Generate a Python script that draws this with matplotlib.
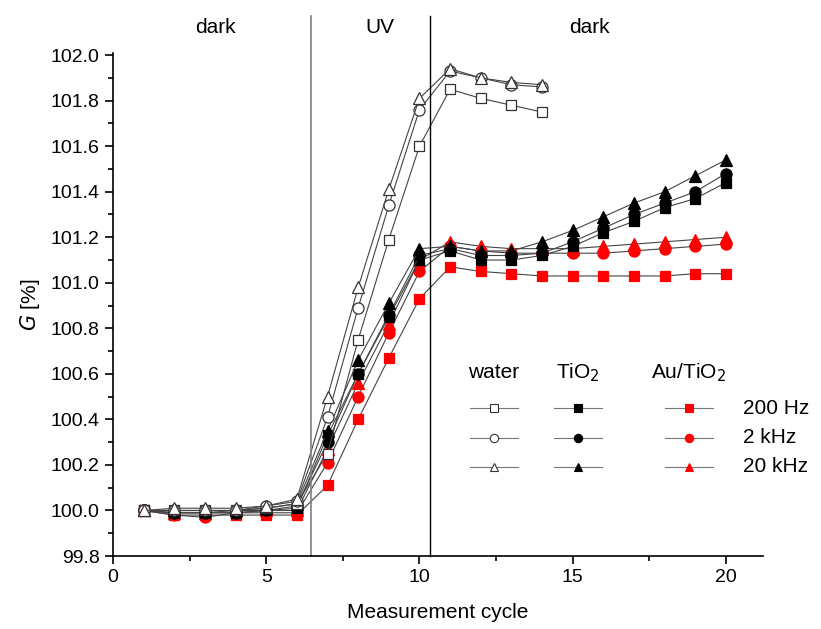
import matplotlib
matplotlib.use("Agg")
import matplotlib.pyplot as plt
from matplotlib.ticker import MultipleLocator

plt.rcParams['font.family'] = ['Liberation Sans', 'DejaVu Sans']

cycles_water = list(range(1, 15))
cycles = list(range(1, 21))

water_200 = [100.0, 100.0, 100.0, 100.0, 100.01, 100.03, 100.25, 100.75, 101.19, 101.60, 101.85, 101.81, 101.78, 101.75]
water_2k = [100.0, 100.0, 100.0, 100.0, 100.02, 100.04, 100.41, 100.89, 101.34, 101.76, 101.93, 101.90, 101.87, 101.86]
water_20k = [100.0, 100.01, 100.01, 100.01, 100.02, 100.05, 100.50, 100.98, 101.41, 101.81, 101.94, 101.90, 101.88, 101.87]

tio2_200 = [100.0, 99.99, 99.99, 99.99, 100.0, 100.01, 100.33, 100.60, 100.85, 101.10, 101.14, 101.10, 101.10, 101.12,
            101.16, 101.22, 101.27, 101.33, 101.37, 101.44]
tio2_2k = [100.0, 99.99, 99.99, 99.99, 100.0, 100.02, 100.30, 100.60, 100.86, 101.12, 101.15, 101.12, 101.12, 101.13,
           101.18, 101.24, 101.30, 101.35, 101.40, 101.48]
tio2_20k = [100.0, 100.0, 100.0, 100.0, 100.01, 100.03, 100.35, 100.66, 100.91, 101.15, 101.16, 101.14, 101.14, 101.18,
            101.23, 101.29, 101.35, 101.40, 101.47, 101.54]

au_200 = [100.0, 99.98, 99.98, 99.98, 99.98, 99.98, 100.11, 100.40, 100.67, 100.93, 101.07, 101.05, 101.04, 101.03,
          101.03, 101.03, 101.03, 101.03, 101.04, 101.04]
au_2k = [100.0, 99.98, 99.97, 99.99, 99.99, 99.99, 100.21, 100.50, 100.78, 101.05, 101.16, 101.14, 101.13, 101.13,
         101.13, 101.13, 101.14, 101.15, 101.16, 101.17]
au_20k = [100.0, 99.99, 99.99, 100.0, 100.0, 100.0, 100.27, 100.56, 100.82, 101.10, 101.18, 101.16, 101.15, 101.15,
          101.15, 101.16, 101.17, 101.18, 101.19, 101.20]

fig = plt.figure(figsize=(8.21, 6.29), dpi=100)
ax = fig.add_axes([0.1376, 0.116, 0.7914, 0.8])

line_kw = dict(color='#444444', linewidth=0.8)
series = [
    (cycles, au_200, 's', 'red', 'red', 7),
    (cycles, au_2k, 'o', 'red', 'red', 8),
    (cycles, au_20k, '^', 'red', 'red', 8.5),
    (cycles, tio2_200, 's', 'black', 'black', 7),
    (cycles, tio2_2k, 'o', 'black', 'black', 8),
    (cycles, tio2_20k, '^', 'black', 'black', 8.5),
    (cycles_water, water_200, 's', 'white', '#333333', 7),
    (cycles_water, water_2k, 'o', 'white', '#333333', 8),
    (cycles_water, water_20k, '^', 'white', '#333333', 8.5),
]
for x, y, m, fc, ec, ms in series:
    ax.plot(x, y, marker=m, markerfacecolor=fc, markeredgecolor=ec, markersize=ms,
            markeredgewidth=0.9, **line_kw)

# dark / UV boundaries
ax.axvline(6.45, ymin=0, ymax=1.074, color='#808080', linewidth=1.2, clip_on=False)
ax.axvline(10.35, ymin=0, ymax=1.074, color='black', linewidth=1.0, clip_on=False)
for xt, t in [(3.33, 'dark'), (8.7, 'UV'), (15.56, 'dark')]:
    ax.text(xt, 102.12, t, ha='center', va='center', fontsize=15)

# legend drawn as a small table
leg_cols = [12.42, 15.16, 18.79]
leg_rows = [100.448, 100.32, 100.193]
headers = ['water', 'TiO$_2$', 'Au/TiO$_2$']
freqs = ['200 Hz', '2 kHz', '20 kHz']
markers = ['s', 'o', '^']
faces = ['white', 'black', 'red']
edges = ['#333333', 'black', 'red']
for xc, h, fc, ec in zip(leg_cols, headers, faces, edges):
    ax.text(xc, 100.607, h, ha='center', va='center', fontsize=15)
    for yr, m in zip(leg_rows, markers):
        ax.plot([xc - 0.78, xc + 0.78], [yr, yr], color='#777777', linewidth=0.8)
        ax.plot([xc], [yr], marker=m, markerfacecolor=fc, markeredgecolor=ec,
                markersize=6, markeredgewidth=0.8)
for yr, f in zip(leg_rows, freqs):
    ax.text(20.56, yr, f, ha='left', va='center', fontsize=15)

ax.set_xlim(0, 21.2)
ax.set_ylim(99.8, 102.01)
ax.xaxis.set_major_locator(MultipleLocator(5))
ax.xaxis.set_minor_locator(MultipleLocator(2.5))
ax.yaxis.set_major_locator(MultipleLocator(0.2))
ax.yaxis.set_minor_locator(MultipleLocator(0.1))
ax.yaxis.set_major_formatter(plt.FormatStrFormatter('%.1f'))
ax.tick_params(which='major', direction='out', length=6, width=1.2, labelsize=14)
ax.tick_params(which='minor', direction='out', length=3.5, width=1.2)
for s in ['top', 'right']:
    ax.spines[s].set_visible(False)
for s in ['left', 'bottom']:
    ax.spines[s].set_linewidth(1.2)

ax.set_xlabel('Measurement cycle', fontsize=15, labelpad=12)
ax.set_ylabel('$G$ [%]', fontsize=15, labelpad=6)

fig.savefig('out.png', dpi=100)
